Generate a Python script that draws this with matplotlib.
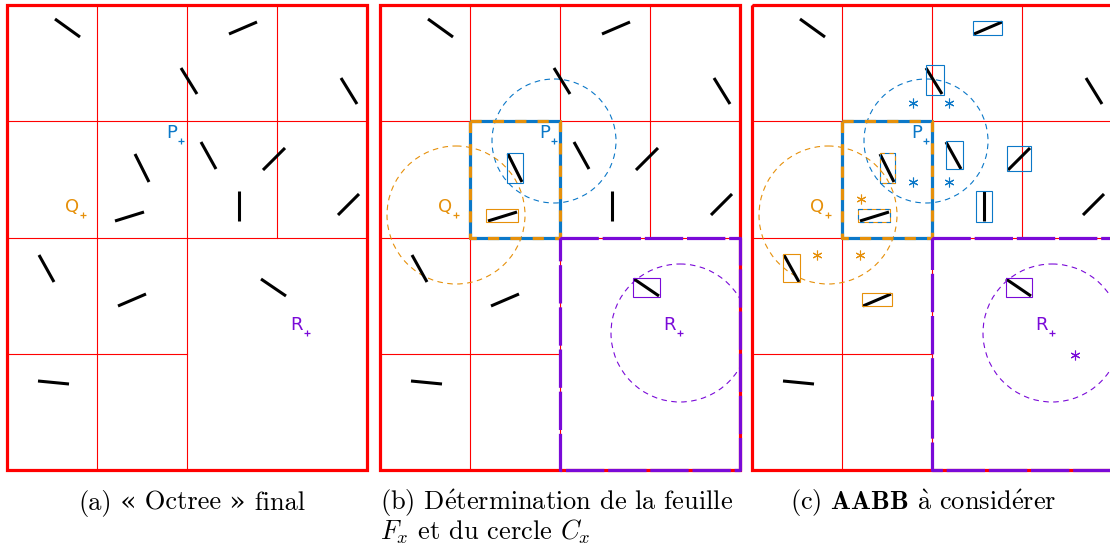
import matplotlib
import matplotlib.pyplot as plt
from matplotlib.patches import Rectangle, Circle

matplotlib.use("Agg")
plt.rcParams['mathtext.fontset'] = 'cm'

# panel coordinates: pixels from the top-left corner of each square
W, H = 360, 465
segments = [
    (48, 14, 73, 32), (222, 29, 250, 17), (174, 63, 190, 89), (334, 73, 350, 99),
    (128, 149, 142, 177), (194, 137, 209, 164), (256, 165, 278, 143), (108, 216, 137, 207),
    (232, 186, 232, 216), (331, 210, 352, 189), (32, 250, 47, 277), (111, 301, 139, 289),
    (254, 274, 279, 291), (31, 376, 62, 379),
]
# quadtree cell edges
vlines = [(90, 0, 465), (180, 0, 465), (270, 0, 232.5)]
hlines = [(116.25, 0, 360), (232.5, 0, 360), (348.75, 0, 180)]

points = {'P': (174, 136), 'Q': (76, 210), 'R': (300, 328)}
radius = {'P': 62, 'Q': 69, 'R': 69}
leaf_PQ = (90, 116.25, 180, 232.5)
leaf_R = (180, 232.5, 360, 465)

boxes_b = {'P': [(127, 148, 143, 178)], 'Q': [(106, 204, 138, 217)], 'R': [(253, 273, 280, 292)]}
boxes_c = {'P': [(221, 16, 250, 30), (174, 60, 192, 90), (194, 136, 211, 164),
                 (255, 141, 279, 166), (224, 186, 240, 217)],
           'Q': [(31, 249, 48, 277), (110, 288, 140, 301)],
           'R': [(254, 273, 280, 292)]}
box_PQ = (128, 148, 143, 178)   # blue with orange dashes
box_QP = (106, 204, 138, 217)   # orange with blue dashes
stars = {'P': [(161, 98), (197, 98), (161, 177), (197, 177)],
         'Q': [(109, 194), (65, 250), (108, 250)],
         'R': [(323, 350)]}

col = {'P': '#0b78c8', 'Q': '#e6900a', 'R': '#7a0ad8'}
red = '#ff0000'

fig = plt.figure(figsize=(11.1, 5.51), dpi=100)
FW, FH = 1110, 551
panel_x = [7, 380, 752]


def rect(ax, b, color, lw, **kw):
    x0, y0, x1, y1 = b
    ax.add_patch(Rectangle((x0, y0), x1 - x0, y1 - y0, fill=False, edgecolor=color,
                           linewidth=lw, clip_on=False, **kw))


def dual_rect(ax, b, c1, c2, lw, dash):
    x0, y0, x1, y1 = b
    xs = [x0, x1, x1, x0, x0]
    ys = [y0, y0, y1, y1, y0]
    ax.plot(xs, ys, color=c1, lw=lw, solid_capstyle='butt', clip_on=False, zorder=6)
    ax.plot(xs, ys, color=c2, lw=lw, dashes=dash, dash_capstyle='butt', clip_on=False, zorder=6)


axes = []
for px in panel_x:
    ax = fig.add_axes([px / FW, 1 - (5 + H) / FH, W / FW, H / FH])
    ax.set_xlim(0, W)
    ax.set_ylim(H, 0)
    ax.axis('off')
    for x, y0, y1 in vlines:
        ax.plot([x, x], [y0, y1], color=red, lw=0.8, zorder=1)
    for y, x0, x1 in hlines:
        ax.plot([x0, x1], [y, y], color=red, lw=0.8, zorder=1)
    rect(ax, (0, 0, W, H), red, 2.3, zorder=2)
    for x0, y0, x1, y1 in segments:
        ax.plot([x0, x1], [y0, y1], color='black', lw=2.2, solid_capstyle='butt', zorder=5)
    for k, (x, y) in points.items():
        ax.plot(x, y, '+', color=col[k], ms=5, mew=0.9, zorder=7)
        ax.text(x - 4, y - 3.5, k, color=col[k], fontsize=13, ha='right', va='baseline',
                family='DejaVu Sans', zorder=7)
    axes.append(ax)

for ax, boxes in [(axes[1], boxes_b), (axes[2], boxes_c)]:
    for k, (x, y) in points.items():
        ax.add_patch(Circle((x, y), radius[k], fill=False, edgecolor=col[k], lw=0.8,
                            linestyle=(0, (5, 4)), zorder=3))
        for b in boxes[k]:
            rect(ax, b, col[k], 0.8, zorder=6)
    # leaf of P and Q
    dual_rect(ax, leaf_PQ, col['P'], col['Q'], 2.3, (3.5, 3.5))
    # leaf of R
    x0, y0, x1, y1 = leaf_R
    ax.plot([x0, x1, x1, x0, x0], [y0, y0, y1, y1, y0], color=col['R'], lw=2.3,
            dashes=(12, 1.2), dash_capstyle='butt', clip_on=False, zorder=6)

dual_rect(axes[2], box_PQ, col['P'], col['Q'], 0.8, (4, 4))
dual_rect(axes[2], box_QP, col['Q'], col['P'], 0.8, (4, 4))
for k, pts in stars.items():
    axes[2].plot([p[0] for p in pts], [p[1] for p in pts], linestyle='none',
                 marker=(6, 2, 0), ms=7, mew=0.8, color=col[k], zorder=7)

# captions (Computer Modern; guillemets taken from DejaVu Serif)
CM = 'cmr10'
FS = 19
cap = dict(fontsize=FS, va='baseline')
renderer = fig.canvas.get_renderer()


def chain(x, y, pieces):
    for s, fam in pieces:
        t = fig.text(x / FW, 1 - y / FH, s, family=fam, ha='left', **cap)
        x += t.get_window_extent(renderer).width


pieces_a = [('(a)', CM), (' «', 'DejaVu Serif'), (' Octree', CM), (' »', 'DejaVu Serif'),
            (' final', CM)]
chain(78, 510, pieces_a)
fig.text(380 / FW, 1 - 510 / FH, r'(b) D$\acute{\mathrm{e}}$termination de la feuille',
         family=CM, ha='left', **cap)
fig.text(380 / FW, 1 - 540 / FH, '$F_x$ et du cercle $C_x$', family=CM, ha='left', **cap)
fig.text(923 / FW, 1 - 510 / FH,
         r'(c) $\mathbf{AABB}$ $\grave{\mathrm{a}}$ consid$\acute{\mathrm{e}}$rer',
         family=CM, ha='center', **cap)

fig.savefig('out.png', dpi=100)
